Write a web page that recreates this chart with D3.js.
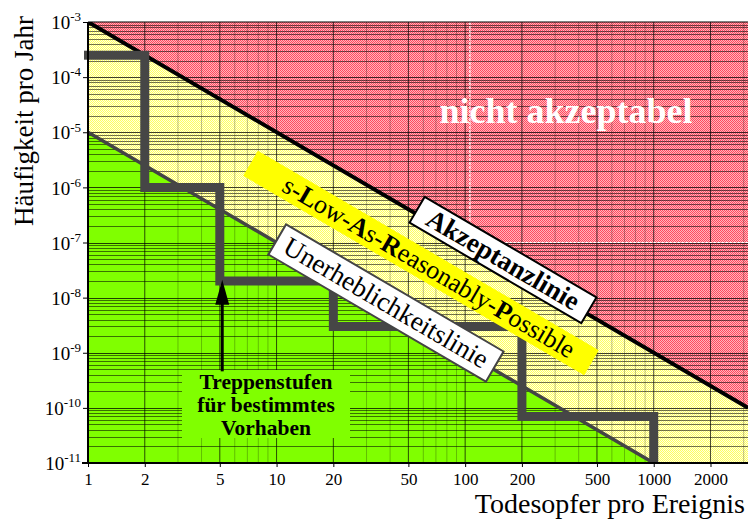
<!DOCTYPE html>
<html>
<head>
<meta charset="utf-8">
<script src="https://cdn.jsdelivr.net/npm/d3@7"></script>
<style>
  html, body { margin: 0; padding: 0; background: #fff; }
  svg { display: block; font-family: "Liberation Serif", "Times New Roman", serif; }
</style>
</head>
<body>
<svg id="chart" width="748" height="519"></svg>
<script>
// ---------- Daten ----------
const xTicks = [1, 2, 5, 10, 20, 50, 100, 200, 500, 1000, 2000];
const yExponents = [-3, -4, -5, -6, -7, -8, -9, -10, -11];
const xDomain = [1, 3162];
const yDomain = [1e-11, 1e-3];

// Akzeptanzlinie und Unerheblichkeitslinie (Endpunkte, log-log Geraden)
const acceptLine = [[1, 1e-3], [3162, 1e-10]];
const negligLine = [[1, 1e-5], [1000, 1e-11]];

// Treppenstufen für bestimmtes Vorhaben
const stairs = [
    [1, 2.5e-4], [2, 2.5e-4], [2, 1e-6], [5, 1e-6], [5, 2e-8],
    [20, 2e-8], [20, 3e-9], [200, 3e-9], [200, 7e-11], [1000, 7e-11], [1000, 1e-11]
];

// Pfeil (von Text zur Stufe)
const arrowPts = [[5.15, 4.6e-10], [5.15, 2.1e-8]];

// ---------- Layout ----------
const m = { left: 88, right: 748, top: 22, bottom: 463 };

const x = d3.scaleLog().domain(xDomain).range([m.left, m.right]);
const y = d3.scaleLog().domain(yDomain).range([m.bottom, m.top]);

const svg = d3.select('#chart');
const defs = svg.append('defs');

// Rasterfarben (gedithert wie im Original)
function checker(id, base, dot) {
    const p = defs.append('pattern').attr('id', id)
        .attr('width', 2).attr('height', 2).attr('patternUnits', 'userSpaceOnUse');
    p.append('rect').attr('width', 2).attr('height', 2).attr('fill', base);
    p.append('rect').attr('x', 1).attr('y', 0).attr('width', 1).attr('height', 1).attr('fill', dot);
    p.append('rect').attr('x', 0).attr('y', 1).attr('width', 1).attr('height', 1).attr('fill', dot);
}
checker('redFill', '#ff4a5e', '#ffb4bc');
checker('yellowFill', '#ffff60', '#ffffe0');

defs.append('clipPath').attr('id', 'plotClip')
    .append('rect').attr('x', m.left).attr('y', m.top)
    .attr('width', m.right - m.left).attr('height', m.bottom - m.top);

const plot = svg.append('g').attr('clip-path', 'url(#plotClip)');

// Hintergrund gelb
plot.append('rect').attr('x', m.left).attr('y', m.top)
    .attr('width', m.right - m.left).attr('height', m.bottom - m.top)
    .attr('fill', 'url(#yellowFill)');

const poly = pts => 'M' + pts.map(p => `${x(p[0])},${y(p[1])}`).join('L') + 'Z';

// rot: oberhalb der Akzeptanzlinie
plot.append('path')
    .attr('d', poly([acceptLine[0], acceptLine[1], [xDomain[1], yDomain[1]]]))
    .attr('fill', 'url(#redFill)');

// grün: unterhalb der Unerheblichkeitslinie
plot.append('path')
    .attr('d', poly([negligLine[0], negligLine[1], [xDomain[0], yDomain[0]]]))
    .attr('fill', '#80ff00');

// ---------- Gitter ----------
const xGrid = [];
for (let e = 0; e <= 3; e++) for (let k = 1; k <= 9; k++) {
    const v = k * Math.pow(10, e);
    if (v <= xDomain[1]) xGrid.push({ v, major: k === 1 || k === 2 || k === 5 });
}
const yGrid = [];
for (let e = -11; e < -3; e++) for (let k = 1; k <= 9; k++) {
    yGrid.push({ v: k * Math.pow(10, e), major: k === 1 });
}

plot.append('g').selectAll('line').data(xGrid).join('line')
    .attr('x1', d => x(d.v)).attr('x2', d => x(d.v))
    .attr('y1', m.top).attr('y2', m.bottom)
    .attr('stroke', '#000')
    .attr('stroke-opacity', d => d.major ? 0.7 : 0.25)
    .attr('stroke-width', 1);

plot.append('g').selectAll('line').data(yGrid).join('line')
    .attr('x1', m.left).attr('x2', m.right)
    .attr('y1', d => Math.round(y(d.v)) + 0.5).attr('y2', d => Math.round(y(d.v)) + 0.5)
    .attr('stroke', '#000')
    .attr('stroke-opacity', d => d.major ? 0.75 : 0.55)
    .attr('stroke-width', 1);

// weiße gestrichelte Linien im roten Feld
plot.append('path')
    .attr('d', `M${x(106)},${m.top}V${y(1e-7)}H${m.right}`)
    .attr('fill', 'none').attr('stroke', '#fff')
    .attr('stroke-width', 1.2).attr('stroke-dasharray', '3 1');

// ---------- Linien ----------
const line = d3.line().x(d => x(d[0])).y(d => y(d[1]));

plot.append('path').attr('d', line(negligLine))
    .attr('fill', 'none').attr('stroke', '#444').attr('stroke-width', 3.5);

plot.append('path').attr('d', line(acceptLine))
    .attr('fill', 'none').attr('stroke', '#000').attr('stroke-width', 4);

svg.append('path').attr('d', line(stairs))
    .attr('fill', 'none').attr('stroke', '#464646')
    .attr('stroke-width', 9).attr('stroke-linejoin', 'miter')
    .attr('stroke-linecap', 'butt');
// linkes Ende leicht über die Achse hinaus
svg.append('line')
    .attr('x1', x(stairs[0][0]) - 4).attr('x2', x(stairs[0][0]) + 1)
    .attr('y1', y(stairs[0][1])).attr('y2', y(stairs[0][1]))
    .attr('stroke', '#464646').attr('stroke-width', 9);

// ---------- Achsen ----------
svg.append('line').attr('x1', m.left).attr('x2', m.left).attr('y1', m.top).attr('y2', m.bottom + 1)
    .attr('stroke', '#000').attr('stroke-width', 2);
svg.append('line').attr('x1', m.left - 6).attr('x2', m.right).attr('y1', m.bottom).attr('y2', m.bottom)
    .attr('stroke', '#000').attr('stroke-width', 2);
svg.append('line').attr('x1', m.left).attr('x2', m.right).attr('y1', m.top).attr('y2', m.top)
    .attr('stroke', '#000').attr('stroke-width', 1.2);

const xAxis = d3.axisBottom(x).tickValues(xTicks).tickFormat(d3.format('d'))
    .tickSize(4).tickPadding(6);
const gx = svg.append('g').attr('transform', `translate(0,${m.bottom})`).call(xAxis);
gx.select('.domain').remove();
gx.selectAll('text').attr('font-size', 17).attr('font-family', '"Liberation Serif", serif').attr('fill', '#000');

const yAxis = d3.axisLeft(y).tickValues(yExponents.map(e => Math.pow(10, e)))
    .tickSize(5).tickPadding(2).tickFormat(() => '');
const gy = svg.append('g').attr('transform', `translate(${m.left},0)`).call(yAxis);
gy.select('.domain').remove();
gy.selectAll('.tick text').each(function (d) {
    const t = d3.select(this)
        .attr('font-size', 19).attr('font-family', '"Liberation Serif", serif')
        .attr('fill', '#000').attr('dy', '0.35em');
    const e = Math.round(Math.log10(d));
    t.append('tspan').text('10');
    t.append('tspan').attr('font-size', 13).attr('dy', '-0.6em').text(String(e));
});

// Achsentitel
svg.append('text')
    .attr('transform', `translate(33,${121}) rotate(-90)`)
    .attr('text-anchor', 'middle').attr('font-size', 27).text('Häufigkeit pro Jahr');
svg.append('text')
    .attr('x', 745).attr('y', 513)
    .attr('text-anchor', 'end').attr('font-size', 28).text('Todesopfer pro Ereignis');

// ---------- Beschriftungen ----------
const angle = Math.atan2(y(acceptLine[1][1]) - y(acceptLine[0][1]),
                         x(acceptLine[1][0]) - x(acceptLine[0][0])) * 180 / Math.PI;

svg.append('text')
    .attr('x', 566).attr('y', 123).attr('text-anchor', 'middle')
    .attr('font-size', 36).attr('font-weight', 'bold').attr('fill', '#fff')
    .text('nicht akzeptabel');

function boxLabel(cx, cy, w, h, fill, stroke, size, build) {
    const g = svg.append('g').attr('transform', `translate(${cx},${cy}) rotate(${angle})`);
    g.append('rect').attr('x', -w / 2).attr('y', -h / 2).attr('width', w).attr('height', h)
        .attr('fill', fill).attr('stroke', stroke || 'none').attr('stroke-width', 2);
    const t = g.append('text').attr('text-anchor', 'middle').attr('dy', '0.32em')
        .attr('font-size', size);
    build(t);
    return g;
}

// ALARP
boxLabel(421, 263, 395, 29, '#ffff00', null, 26, t => {
    t.attr('x', 9);
    [['s-', false], ['L', true], ['ow-', false], ['A', true], ['s-', false],
     ['R', true], ['easonably-', false], ['P', true], ['ossible', false]]
        .forEach(([s, b]) => t.append('tspan').attr('font-weight', b ? 'bold' : 'normal').text(s));
});

// Akzeptanzlinie
boxLabel(503, 260, 199, 30, '#fff', '#000', 27, t => {
    t.attr('font-weight', 'bold').text('Akzeptanzlinie');
});

// Unerheblichkeitslinie
boxLabel(386, 303, 252, 35, '#fff', '#444', 27, t => {
    t.text('Unerheblichkeitslinie');
});

// Treppenstufen-Text
svg.append('rect').attr('x', 182).attr('y', 370).attr('width', 168).attr('height', 68)
    .attr('fill', '#80ff00');
const tt = svg.append('text').attr('text-anchor', 'middle')
    .attr('font-size', 21.5).attr('font-weight', 'bold');
[['Treppenstufen', 389], ['für bestimmtes', 412], ['Vorhaben', 435]].forEach(([s, by]) =>
    tt.append('tspan').attr('x', 266).attr('y', by).text(s));

// Pfeil
const ax = x(arrowPts[0][0]);
svg.append('line').attr('x1', ax).attr('x2', ax)
    .attr('y1', y(arrowPts[0][1])).attr('y2', y(arrowPts[1][1]) + 20)
    .attr('stroke', '#000').attr('stroke-width', 3);
const tipY = y(arrowPts[1][1]);
svg.append('path')
    .attr('d', `M${ax},${tipY}L${ax - 7},${tipY + 25}L${ax + 7},${tipY + 25}Z`)
    .attr('fill', '#000');
</script>
</body>
</html>
